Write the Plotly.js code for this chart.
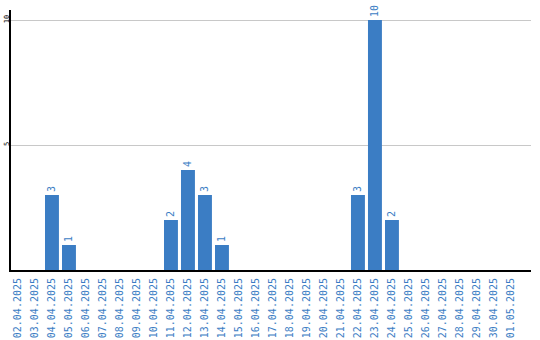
<!DOCTYPE html>
<html><head><meta charset="utf-8">
<script src="https://cdn.plot.ly/plotly-3.0.1.min.js"></script>
<style>html,body{margin:0;padding:0;background:#fff}#c{width:540px;height:340px}</style>
</head><body><div id="c"></div>
<script>
const dates = ["02.04.2025","03.04.2025","04.04.2025","05.04.2025","06.04.2025","07.04.2025","08.04.2025","09.04.2025","10.04.2025","11.04.2025","12.04.2025","13.04.2025","14.04.2025","15.04.2025","16.04.2025","17.04.2025","18.04.2025","19.04.2025","20.04.2025","21.04.2025","22.04.2025","23.04.2025","24.04.2025","25.04.2025","26.04.2025","27.04.2025","28.04.2025","29.04.2025","30.04.2025","01.05.2025"];
const counts = [0,0,3,1,0,0,0,0,0,2,4,3,1,0,0,0,0,0,0,0,3,10,2,0,0,0,0,0,0,0];
const yTicks = [5,10];
const barColor = '#3b7dc4';
const idx = dates.map((d,i)=>i);
const trace = {
  type:'bar', x: idx, y: counts,
  marker:{color:barColor},
  text: counts.map(v=> v>0 ? String(v) : ''),
  textposition:'outside', textangle:-90, cliponaxis:false,
  textfont:{family:'DejaVu Sans Mono', size:10, color:barColor},
  hoverinfo:'none'
};
const layout = {
  width:540, height:340,
  margin:{l:11,r:9,t:10,b:70},
  paper_bgcolor:'#fff', plot_bgcolor:'#fff',
  showlegend:false, bargap:0.18,
  xaxis:{
    tickmode:'array', tickvals: idx, ticktext: dates,
    range:[-0.41,30.18], tickangle:-90,
    tickfont:{family:'DejaVu Sans Mono', size:10, color:barColor},
    showline:true, linecolor:'#000', linewidth:2, showgrid:false, zeroline:false,
    ticks:'', ticklabelstandoff:2, fixedrange:true
  },
  yaxis:{
    range:[0,10.4], tickmode:'array', tickvals:yTicks, ticktext:yTicks.map(String),
    tickangle:-90, tickfont:{family:'DejaVu Sans Mono', size:7, color:'#000'},
    showline:true, linecolor:'#000', linewidth:2, showgrid:true, gridcolor:'#c8c8c8', gridwidth:1,
    zeroline:false, ticks:'', ticklabelstandoff:-3
  }
};
Plotly.newPlot('c',[trace],layout,{staticPlot:true,displayModeBar:false});
</script></body></html>
